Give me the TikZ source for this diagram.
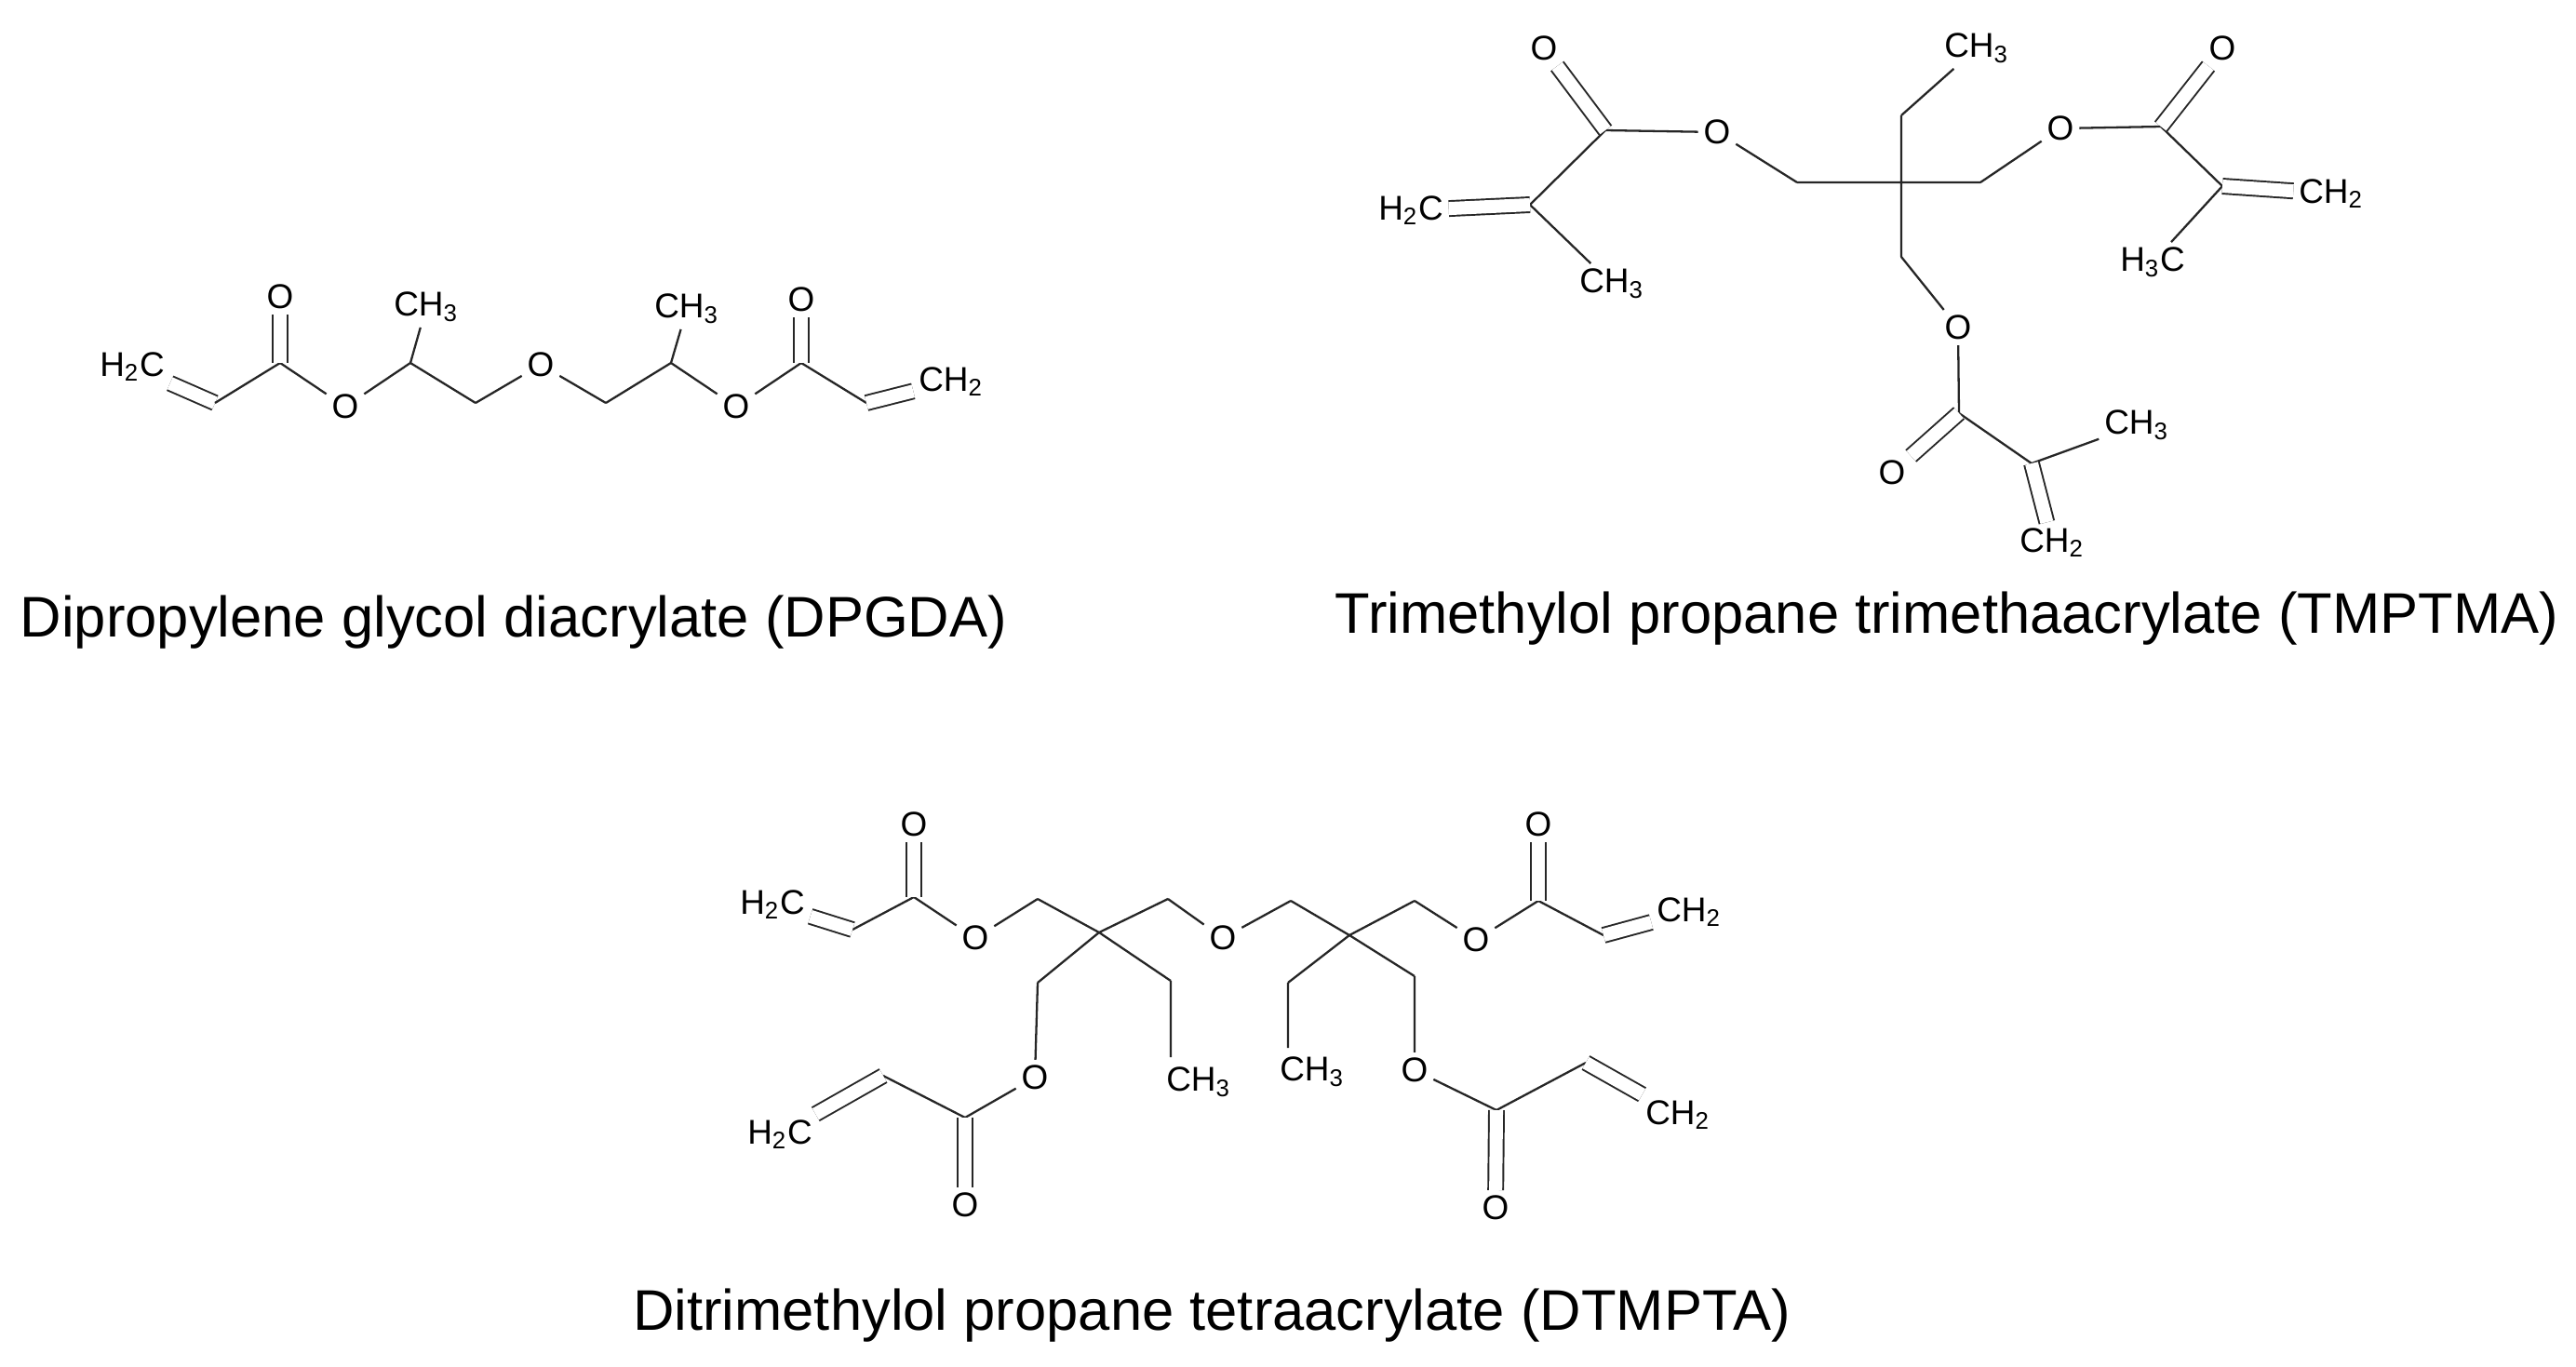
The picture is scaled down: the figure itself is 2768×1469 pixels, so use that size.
\documentclass[tikz,border=0pt]{standalone}
\usepackage{fontspec}
\setmainfont{Liberation Sans}
\begin{document}
\begin{tikzpicture}[x=0.01cm,y=-0.01cm,
  atom/.style={inner sep=1.5pt,font=\fontsize{10.5}{12}\selectfont},
  captext/.style={font=\fontsize{17.5}{21}\selectfont},
  bond/.style={line width=0.65pt,draw=black!85},
  dbl/.style={line width=0.55pt,draw=black!85,double,double distance=4pt}]
\useasboundingbox (0,0) rectangle (2768,1469);
% ---------- DPGDA ----------
\node[atom] (a1) at (142,394) {H\textsubscript{2}C};
\coordinate (a2) at (231,433);
\coordinate (a3) at (301,390);
\node[atom] (a4) at (301,319) {O};
\node[atom] (a5) at (371,437) {O};
\coordinate (a6) at (441,390);
\node[atom] (a7) at (458,330) {CH\textsubscript{3}};
\coordinate (a8) at (511,433);
\node[atom] (a9) at (581,392) {O};
\coordinate (a10) at (651,433);
\coordinate (a11) at (721,390);
\node[atom] (a12) at (738,332) {CH\textsubscript{3}};
\node[atom] (a13) at (791,437) {O};
\coordinate (a14) at (861,390);
\node[atom] (a15) at (861,322) {O};
\coordinate (a16) at (931,433);
\node[atom] (a17) at (1022,410) {CH\textsubscript{2}};
\draw[dbl] (a1) -- (a2);
\draw[bond] (a2) -- (a3) (a3) -- (a5) (a5) -- (a6) (a6) -- (a7) (a6) -- (a8) (a8) -- (a9) (a9) -- (a10) (a10) -- (a11) (a11) -- (a12) (a11) -- (a13) (a13) -- (a14) (a14) -- (a16);
\draw[dbl] (a3) -- (a4);
\draw[dbl] (a14) -- (a15);
\draw[dbl] (a16) -- (a17);
\node[captext] (capA) at (552,669) {Dipropylene glycol diacrylate (DPGDA)};
% ---------- TMPTMA ----------
\coordinate (b1) at (2043,124);
\node[atom] (b2) at (2124,52) {CH\textsubscript{3}};
\coordinate (b3) at (2043,276);
\coordinate (b4) at (1931,196);
\coordinate (b5) at (2128,196);
\node[atom] (b6) at (1845,142) {O};
\coordinate (b7) at (1725,140);
\node[atom] (b8) at (1659,52) {O};
\coordinate (b9) at (1644,220);
\node[atom] (b10) at (1516,226) {H\textsubscript{2}C};
\node[atom] (b11) at (1732,305) {CH\textsubscript{3}};
\node[atom] (b12) at (2214,138) {O};
\coordinate (b13) at (2322,136);
\node[atom] (b14) at (2388,52) {O};
\coordinate (b15) at (2388,200);
\node[atom] (b16) at (2505,208) {CH\textsubscript{2}};
\node[atom] (b17) at (2313,282) {H\textsubscript{3}C};
\node[atom] (b18) at (2104,352) {O};
\coordinate (b19) at (2105,444);
\node[atom] (b20) at (2033,508) {O};
\coordinate (b21) at (2183,498);
\node[atom] (b22) at (2296,457) {CH\textsubscript{3}};
\node[atom] (b23) at (2205,583) {CH\textsubscript{2}};
\draw[bond] (b1) -- (b3) (b4) -- (b5) (b1) -- (b2) (b4) -- (b6) (b6) -- (b7) (b7) -- (b9) (b9) -- (b11)
  (b5) -- (b12) (b12) -- (b13) (b13) -- (b15) (b15) -- (b17) (b3) -- (b18) (b18) -- (b19) (b19) -- (b21) (b21) -- (b22);
\draw[dbl] (b7) -- (b8);
\draw[dbl] (b9) -- (b10);
\draw[dbl] (b13) -- (b14);
\draw[dbl] (b15) -- (b16);
\draw[dbl] (b19) -- (b20);
\draw[dbl] (b21) -- (b23);
\node[captext] (capB) at (2092,665) {Trimethylol propane trimethaacrylate (TMPTMA)};
% ---------- DTMPTA ----------
\node[atom] (c1) at (830,972) {H\textsubscript{2}C};
\coordinate (c2) at (916,999);
\coordinate (c3) at (982,964);
\node[atom] (c4) at (982,886) {O};
\node[atom] (c5) at (1048,1008) {O};
\coordinate (c6) at (1115,966);
\coordinate (c7) at (1181,1002);
\coordinate (c8) at (1255,966);
\node[atom] (c9) at (1314,1008) {O};
\coordinate (c10) at (1387,968);
\coordinate (c11) at (1450,1005);
\coordinate (c12) at (1520,968);
\node[atom] (c13) at (1586,1010) {O};
\coordinate (c14) at (1653,968);
\node[atom] (c15) at (1653,886) {O};
\coordinate (c16) at (1723,1005);
\node[atom] (c17) at (1815,980) {CH\textsubscript{2}};
\coordinate (c18) at (1115,1056);
\node[atom] (c20) at (1112,1158) {O};
\coordinate (c21) at (1037,1201);
\coordinate (c22) at (949,1156);
\node[atom] (c23) at (838,1219) {H\textsubscript{2}C};
\node[atom] (c24) at (1037,1295) {O};
\coordinate (c25) at (1258,1054);
\coordinate (c25b) at (1258,1136);
\node[atom] (c26) at (1288,1163) {CH\textsubscript{3}};
\coordinate (c27) at (1384,1056);
\coordinate (c27b) at (1384,1126);
\node[atom] (c28) at (1410,1152) {CH\textsubscript{3}};
\coordinate (c29) at (1520,1049);
\node[atom] (c30) at (1520,1150) {O};
\coordinate (c31) at (1608,1193);
\coordinate (c32) at (1704,1142);
\node[atom] (c33) at (1803,1198) {CH\textsubscript{2}};
\node[atom] (c34) at (1607,1298) {O};
\draw[bond] (c2) -- (c3) (c3) -- (c5) (c5) -- (c6) (c6) -- (c7) (c7) -- (c8) (c8) -- (c9) (c9) -- (c10) (c10) -- (c11)
  (c11) -- (c12) (c12) -- (c13) (c13) -- (c14) (c14) -- (c16) (c7) -- (c18) (c18) -- (c20) (c20) -- (c21) (c21) -- (c22)
  (c7) -- (c25) (c25) -- (c25b) (c11) -- (c27) (c27) -- (c27b) (c11) -- (c29) (c29) -- (c30) (c30) -- (c31) (c31) -- (c32);
\draw[dbl] (c1) -- (c2);
\draw[dbl] (c3) -- (c4);
\draw[dbl] (c14) -- (c15);
\draw[dbl] (c16) -- (c17);
\draw[dbl] (c22) -- (c23);
\draw[dbl] (c21) -- (c24);
\draw[dbl] (c32) -- (c33);
\draw[dbl] (c31) -- (c34);
\node[captext] (capC) at (1302,1414) {Ditrimethylol propane tetraacrylate (DTMPTA)};
\end{tikzpicture}
\end{document}
